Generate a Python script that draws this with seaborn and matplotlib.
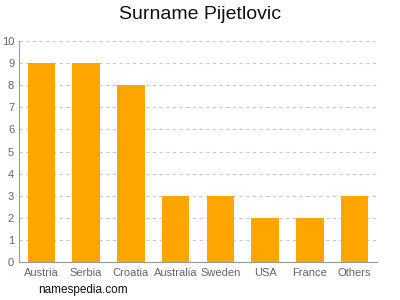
import matplotlib
matplotlib.use("Agg")
import matplotlib.pyplot as plt
import seaborn as sns
import pandas as pd

countries = ["Austria", "Serbia", "Croatia", "Australia", "Sweden", "USA", "France", "Others"]
counts = [9, 9, 8, 3, 3, 2, 2, 3]
yticks = list(range(0, 11))

sns.set_theme(style="white")
plt.rcParams['font.family'] = ['Liberation Sans', 'DejaVu Sans']

df = pd.DataFrame({"country": countries, "count": counts})

fig = plt.figure(figsize=(4, 3), dpi=100)
ax = fig.add_axes([0.0475, 0.1267, 0.895, 0.7366])
sns.barplot(data=df, x="country", y="count", color="#FFA500", saturation=1, width=0.62,
            linewidth=0, ax=ax, zorder=3)

ax.set_ylim(0, 10)
ax.set_xlim(-0.5, len(countries) - 0.5)
ax.set_yticks(yticks)
ax.yaxis.grid(True, linestyle=(0, (3, 3)), color="#c8c8c8", linewidth=0.8, zorder=0)
ax.xaxis.grid(False)
ax.set_xlabel("")
ax.set_ylabel("")
for s in ["top", "right"]:
    ax.spines[s].set_visible(False)
for s in ["left", "bottom"]:
    ax.spines[s].set_color("#999999")
    ax.spines[s].set_linewidth(0.8)
ax.tick_params(axis="both", colors="#999999", labelcolor="#666666", labelsize=8, length=3, width=0.8, pad=1.5)
ax.tick_params(axis="y", length=2.5, pad=1)
fig.suptitle("Surname Pijetlovic", fontsize=14, y=0.98, color="#111111")
fig.text(0.095, 0.022, "namespedia.com", fontsize=8.5, color="#111111")
fig.savefig("out.png", dpi=100)
